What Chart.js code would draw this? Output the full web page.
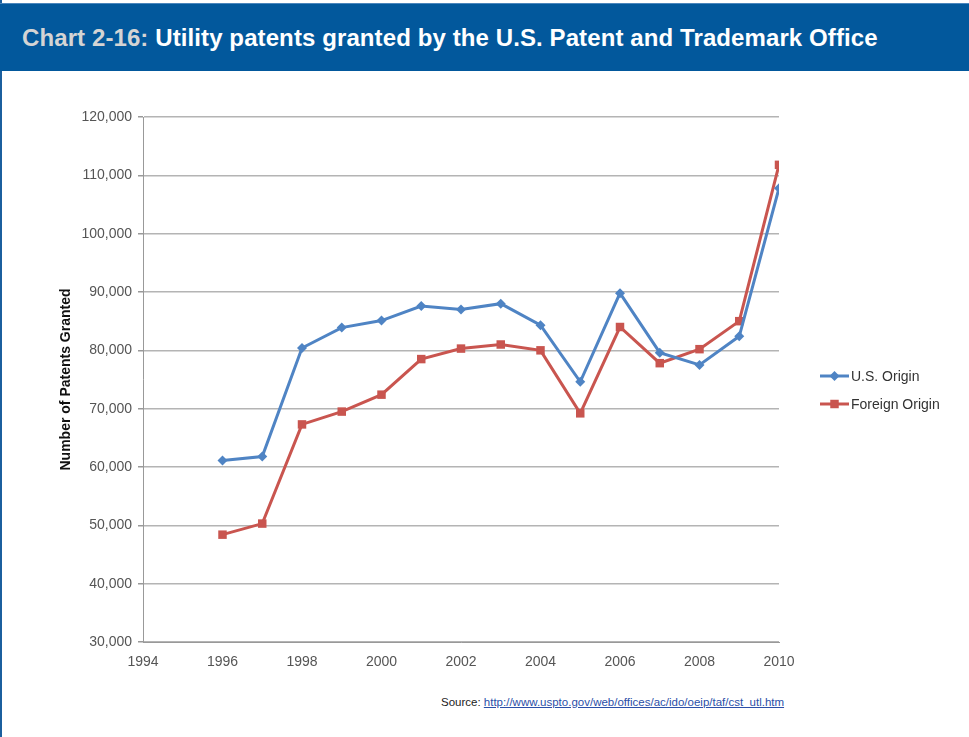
<!DOCTYPE html>
<html>
<head>
<meta charset="utf-8">
<script src="https://cdn.jsdelivr.net/npm/chart.js@4"></script>
<style>
  html, body { margin: 0; padding: 0; background: #fff; }
  body { width: 969px; height: 737px; position: relative; overflow: hidden; font-family: "Liberation Sans", Arial, sans-serif; }
  .frame { position: absolute; left: 0; top: 0; width: 967px; height: 737px; border-left: 2px solid #1b5f9e; }
  .header {
    position: absolute; left: 0; top: 3px; width: 969px; height: 67px;
    background: #02589c; border-top: 1px solid #4a86bd;
  }
  .header h1 {
    margin: 0; position: absolute; left: 22px; top: 20px;
    font: bold 24px "Liberation Sans", Arial, sans-serif; color: #fff; letter-spacing: 0.1px;
  }
  .header h1 span { color: #d4d4d4; }
  #wrap { position: absolute; left: 0; top: 90px; width: 969px; height: 592px; }
  .source {
    position: absolute; left: 441px; top: 696px; font-size: 11.5px; color: #222;
  }
  .source a { color: #2b4fa8; text-decoration: underline; }
</style>
</head>
<body>
<div class="frame"></div>
<div class="header"><h1><span>Chart 2-16:</span> Utility patents granted by the U.S. Patent and Trademark Office</h1></div>
<div id="wrap"><canvas id="patentChart"></canvas></div>
<div class="source">Source: <a href="#">http://www.uspto.gov/web/offices/ac/ido/oeip/taf/cst_utl.htm</a></div>

<script>
// data
const years = [1996, 1997, 1998, 1999, 2000, 2001, 2002, 2003, 2004, 2005, 2006, 2007, 2008, 2009, 2010];
const usOrigin = [61100, 61800, 80400, 83900, 85100, 87600, 87000, 88000, 84300, 74600, 89800, 79600, 77500, 82400, 107800];
const foreignOrigin = [48400, 50300, 67300, 69500, 72400, 78500, 80300, 81000, 80000, 69200, 84000, 77800, 80200, 85000, 111800];
const seriesNames = ['U.S. Origin', 'Foreign Origin'];

const toPoints = vals => years.map((y, i) => ({ x: y, y: vals[i] }));
const FONT = '"Liberation Sans", Arial, sans-serif';

// legend drawn as line + marker like the original
const lineLegend = {
  id: 'lineLegend',
  afterDraw(chart) {
    const ctx = chart.ctx;
    const x0 = 820, x1 = 849;
    const rows = [286, 314];
    chart.data.datasets.forEach((ds, i) => {
      const y = rows[i];
      ctx.save();
      ctx.strokeStyle = ds.borderColor;
      ctx.lineWidth = 3;
      ctx.beginPath();
      ctx.moveTo(x0, y);
      ctx.lineTo(x1, y);
      ctx.stroke();
      ctx.fillStyle = ds.backgroundColor;
      ctx.strokeStyle = ds.backgroundColor;
      Chart.helpers.drawPoint(ctx, {
        pointStyle: ds.pointStyle, radius: ds.pointRadius, borderWidth: 0
      }, (x0 + x1) / 2, y);
      ctx.fillStyle = '#333';
      ctx.font = '14px ' + FONT;
      ctx.textBaseline = 'middle';
      ctx.fillText(ds.label, x1 + 2, y + 1);
      ctx.restore();
    });
  }
};

const ctx = document.getElementById('patentChart');
new Chart(ctx, {
  type: 'line',
  data: {
    datasets: [
      {
        label: seriesNames[0],
        data: toPoints(usOrigin),
        borderColor: '#4f84c4',
        backgroundColor: '#4f84c4',
        borderWidth: 3,
        pointStyle: 'rectRot',
        pointRadius: 5,
        pointBorderWidth: 0
      },
      {
        label: seriesNames[1],
        data: toPoints(foreignOrigin),
        borderColor: '#c9554f',
        backgroundColor: '#c9554f',
        borderWidth: 3,
        pointStyle: 'rect',
        pointRadius: 6,
        pointBorderWidth: 0
      }
    ]
  },
  options: {
    responsive: true,
    maintainAspectRatio: false,
    animation: false,
    layout: { padding: { top: 27, right: 190, left: 0, bottom: 0 } },
    plugins: {
      legend: { display: false },
      tooltip: { enabled: false }
    },
    scales: {
      x: {
        type: 'linear',
        min: 1994,
        max: 2010,
        ticks: {
          stepSize: 2,
          color: '#555',
          font: { size: 14, family: FONT },
          padding: 7,
          callback: v => String(v)
        },
        grid: { display: false, drawTicks: true, tickLength: 5, tickColor: '#999' },
        border: { color: '#999', width: 1 },
        afterFit: s => { s.height = 40; }
      },
      y: {
        min: 30000,
        max: 120000,
        ticks: {
          stepSize: 10000,
          color: '#555',
          font: { size: 14, family: FONT },
          padding: 6,
          callback: v => v.toLocaleString('en-US')
        },
        grid: { color: '#b4b4b4', lineWidth: 1.5, tickLength: 5, tickColor: '#999' },
        border: { color: '#999', width: 1 },
        title: {
          display: true,
          text: 'Number of Patents Granted',
          color: '#111',
          font: { size: 14, weight: 'bold', family: FONT },
          padding: { top: 58, bottom: 0 }
        },
        afterFit: s => { s.width = 143; }
      }
    }
  },
  plugins: [lineLegend]
});
</script>
</body>
</html>
